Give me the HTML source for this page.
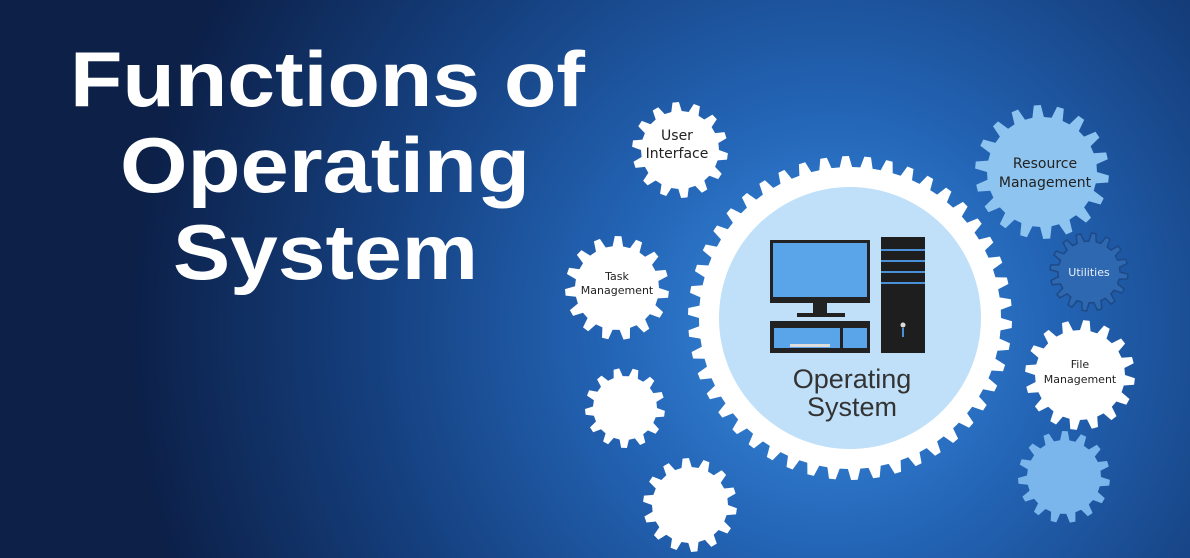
<!DOCTYPE html>
<html><head><meta charset="utf-8"><style>
html,body{margin:0;padding:0;width:1190px;height:558px;overflow:hidden;background:#0b1d40}
svg{display:block}
</style></head><body>
<svg id="s" width="1190" height="558" viewBox="0 0 1190 558" xmlns="http://www.w3.org/2000/svg">
<defs>
<radialGradient id="bg" cx="830" cy="330" r="700" gradientUnits="userSpaceOnUse">
<stop offset="0" stop-color="#3d8fe0"/>
<stop offset="0.3" stop-color="#2466b8"/>
<stop offset="0.65" stop-color="#15407f"/>
<stop offset="1" stop-color="#0c2048"/>
</radialGradient>
</defs>
<rect width="1190" height="558" fill="url(#bg)"/>
<g id="gears"></g>
<circle cx="850" cy="318" r="131" fill="#bfe0f8"/>
<rect x="770" y="240" width="100" height="63" fill="#222"/>
<rect x="773" y="243" width="94" height="54" fill="#5aa5ea"/>
<rect x="813" y="303" width="14" height="10" fill="#222"/>
<rect x="797" y="313" width="48" height="4" fill="#222"/>
<rect x="770" y="321" width="100" height="32" fill="#222"/>
<rect x="774" y="328" width="66" height="20" fill="#5aa5ea"/>
<rect x="843" y="328" width="24" height="20" fill="#5aa5ea"/>
<rect x="790" y="344" width="40" height="3" fill="#ddd"/>
<rect x="881" y="237" width="44" height="116" fill="#1e1e1e"/>
<rect x="881" y="249" width="44" height="2" fill="#4a90d9"/>
<rect x="881" y="260" width="44" height="2" fill="#4a90d9"/>
<rect x="881" y="271" width="44" height="2" fill="#4a90d9"/>
<rect x="881" y="282" width="44" height="2" fill="#4a90d9"/>
<circle cx="903" cy="325" r="2.5" fill="#ddd"/>
<rect x="902" y="328" width="2" height="9" fill="#4a90d9"/>
<g font-family="Liberation Sans, sans-serif" fill="#333" text-anchor="middle">
<text x="852" y="388" font-size="27">Operating</text>
<text x="852" y="416" font-size="27">System</text>
</g>
<g font-family="DejaVu Sans, sans-serif" fill="#222" text-anchor="middle">
<text x="677" y="140" font-size="14">User</text>
<text x="677" y="158" font-size="14">Interface</text>
<text x="617" y="280" font-size="11">Task</text>
<text x="617" y="294" font-size="11">Management</text>
<text x="1045" y="168" font-size="14">Resource</text>
<text x="1045" y="187" font-size="14">Management</text>
<text x="1080" y="368" font-size="11">File</text>
<text x="1080" y="383" font-size="11">Management</text>
<text x="1089" y="276" font-size="11" fill="#e8f0fa">Utilities</text>
</g>
<g font-family="Liberation Sans, sans-serif" font-weight="bold" fill="#fff" font-size="78">
<text x="70" y="106" textLength="515" lengthAdjust="spacingAndGlyphs">Functions of</text>
<text x="120" y="192" textLength="410" lengthAdjust="spacingAndGlyphs">Operating</text>
<text x="173" y="279" textLength="305" lengthAdjust="spacingAndGlyphs">System</text>
</g>
</svg>
<script>
var G=[[850,318,162,151,46,'#ffffff'],[680,150,48,39,14,'#ffffff'],[617,288,52,42,15,'#ffffff'],
[625,408,40,32,13,'#ffffff'],[690,505,47,38,14,'#ffffff'],[1042,172,67,55,18,'#8ec4f0'],
[1089,272,39,31,16,'#2e68b0'],[1080,375,55,45,16,'#ffffff'],[1064,477,46,37,15,'#7ab6ec']];
var g=document.getElementById('gears'),h='';
G.forEach(function(a,k){var cx=a[0],cy=a[1],R=a[2],r=a[3],n=a[4],d='';
for(var i=0;i<n;i++){var t=2*Math.PI*i/n,s=2*Math.PI/n;
var pts=[[r,t],[R,t+s*0.15],[R,t+s*0.45],[r,t+s*0.6]];
pts.forEach(function(p,j){var x=cx+p[0]*Math.cos(p[1]),y=cy+p[0]*Math.sin(p[1]);d+=(i==0&&j==0?'M':'L')+x.toFixed(1)+','+y.toFixed(1);});}
h+='<path d="'+d+'Z" fill="'+a[5]+'"'+(k==6?' stroke="#1d4a86" stroke-width="1.5"':'')+'/>';});
g.innerHTML=h;
</script>
</body></html>
